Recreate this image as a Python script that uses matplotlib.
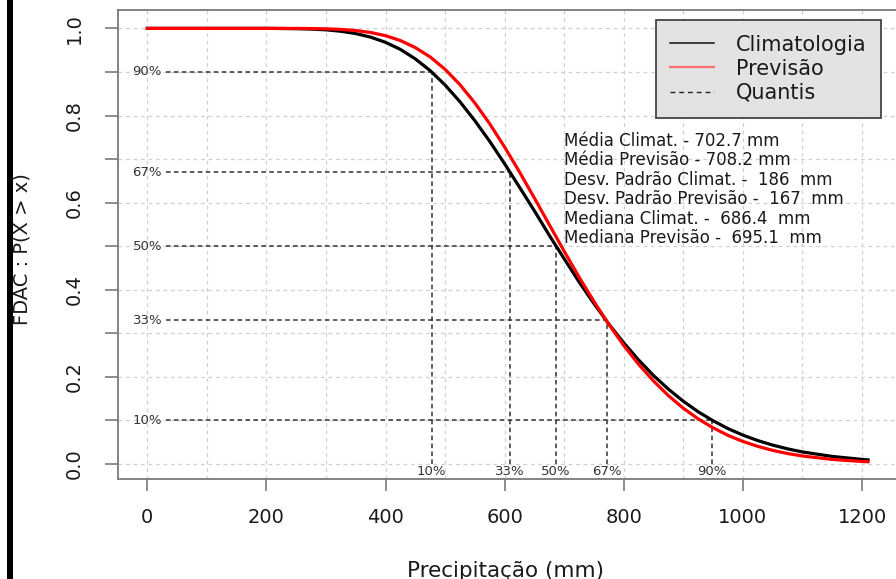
import numpy as np
import matplotlib
matplotlib.use("Agg")
import matplotlib.pyplot as plt
from matplotlib.lines import Line2D
from matplotlib.patches import Rectangle

# ---------------- data ----------------
precip = [0, 50, 100, 150, 200, 250, 275, 300, 325, 350, 375, 400, 425, 450,
          475, 500, 525, 550, 575, 600, 625, 650, 675, 700, 725, 750, 775,
          800, 825, 850, 875, 900, 925, 950, 975, 1000, 1025, 1050, 1075,
          1100, 1150, 1200, 1210]
clim_exceed = [1.0, 1.0, 1.0, 1.0, 1.0, 0.9993, 0.9984, 0.9967, 0.9934, 0.9881,
               0.9799, 0.968, 0.9517, 0.930, 0.903, 0.870, 0.8315, 0.788,
               0.7405, 0.689, 0.6353, 0.581, 0.5249, 0.471, 0.4179, 0.368,
               0.3211, 0.278, 0.2387, 0.203, 0.1717, 0.144, 0.1198, 0.0992,
               0.0813, 0.0663, 0.0538, 0.0434, 0.0348, 0.0277, 0.0174, 0.0106,
               0.0095]
prev_exceed = [1.0, 1.0, 1.0, 1.0, 1.0, 0.9999, 0.9996, 0.999, 0.9977, 0.9951,
               0.9906, 0.9832, 0.9721, 0.9559, 0.9344, 0.9059, 0.8707, 0.8287,
               0.7808, 0.7274, 0.6702, 0.6103, 0.5492, 0.4883, 0.4289, 0.3729,
               0.3204, 0.272, 0.2288, 0.1905, 0.1569, 0.128, 0.1035, 0.083,
               0.0657, 0.0518, 0.0405, 0.0313, 0.024, 0.0184, 0.0105, 0.0058,
               0.0052]

quant_levels = [0.9, 0.67, 0.5, 0.33, 0.1]
quant_level_labels = ["90%", "67%", "50%", "33%", "10%"]
quant_x = [477.5, 609, 686.4, 771, 948]
quant_x_labels = ["10%", "33%", "50%", "67%", "90%"]

stats_lines = [
    "Média Climat. - 702.7 mm",
    "Média Previsão - 708.2 mm",
    "Desv. Padrão Climat. -  186  mm",
    "Desv. Padrão Previsão -  167  mm",
    "Mediana Climat. -  686.4  mm",
    "Mediana Previsão -  695.1  mm",
]
legend_labels = ["Climatologia", "Previsão", "Quantis"]
x_ticks = [0, 200, 400, 600, 800, 1000, 1200]
y_ticks = [0.0, 0.1, 0.2, 0.3, 0.4, 0.5, 0.6, 0.7, 0.8, 0.9, 1.0]
y_tick_labels = ["0.0", "", "0.2", "", "0.4", "", "0.6", "", "0.8", "", "1.0"]
x_label = "Precipitação (mm)"
y_label = "FDAC : P(X > x)"

# ---------------- figure ----------------
W, H = 896, 579
plt.rcParams['font.family'] = ['DejaVu Sans']
fig = plt.figure(figsize=(W / 100, H / 100), dpi=100)

def fx(px):
    return px / W

def fy(py):
    return 1 - py / H

left, right, top, bottom = 118.3, 896.8, 10.0, 479.3
ax = fig.add_axes([fx(left), fy(bottom), (right - left) / W, (bottom - top) / H])
ax.set_xlim(-48.7, 1258.4)
ax.set_ylim(-0.0351, 1.0422)

# grid
for gx in range(0, 1300, 100):
    ax.axvline(gx, color='#d0d0d0', lw=0.9, ls=(0, (3, 3)), zorder=0)
for gy in y_ticks:
    ax.axhline(gy, color='#d0d0d0', lw=0.9, ls=(0, (3, 3)), zorder=0)

# quantile lines
qcol = '#333333'
qls = (0, (3, 2.2))
for lev, lab, qx, qlab in zip(quant_levels, quant_level_labels, quant_x, quant_x_labels):
    ax.plot([31, qx], [lev, lev], color=qcol, lw=1.1, ls=qls, zorder=1)
    ax.plot([qx, qx], [0, lev], color=qcol, lw=1.1, ls=qls, zorder=1)
    ax.text(0, lev, lab, ha='center', va='center', fontsize=9.5, color='#333333', zorder=3)
    ax.text(qx, -0.018, qlab, ha='center', va='center', fontsize=9.5, color='#333333', zorder=3)

# curves
ax.plot(precip, clim_exceed, color='black', lw=2.3, zorder=4)
ax.plot(precip, prev_exceed, color='red', lw=2.3, zorder=5)

# axes styling
for s in ax.spines.values():
    s.set_color('#7a7a7a')
    s.set_linewidth(1.3)
ax.set_xticks(x_ticks)
ax.set_xticklabels([str(v) for v in x_ticks])
ax.set_yticks(y_ticks)
ax.set_yticklabels(y_tick_labels, rotation=90, va='center')
ax.tick_params(axis='x', length=8.6, width=1.2, color='#7a7a7a', pad=12.3,
               labelsize=14, labelcolor='#1a1a1a')
ax.tick_params(axis='y', length=9.4, width=1.2, color='#7a7a7a', pad=15.5,
               labelsize=14, labelcolor='#1a1a1a')

# legend
handles = [
    Line2D([], [], color='#111111', lw=1.1),
    Line2D([], [], color='#ff7070', lw=1.6),
    Line2D([], [], color='#222222', lw=1.0, ls=(0, (3.5, 2.8))),
]
leg = ax.legend(handles, legend_labels, loc='upper right',
                bbox_to_anchor=(fx(881), fy(20)), bbox_transform=fig.transFigure,
                fontsize=15, frameon=True, fancybox=False, borderpad=0.7,
                labelspacing=0.2, handlelength=2.1, handletextpad=1.05,
                borderaxespad=0.0)
frame = leg.get_frame()
frame.set_facecolor('#e3e3e3')
frame.set_edgecolor('#444444')
frame.set_linewidth(1.3)
frame.set_alpha(1.0)
for t in leg.get_texts():
    t.set_color('#1a1a1a')
leg.set_zorder(10)

# stats text
for i, line in enumerate(stats_lines):
    fig.text(fx(564), fy(145.7 + i * 19.5), line, ha='left', va='baseline',
             fontsize=12, color='#1a1a1a')

# axis labels
fig.text(fx(505.5), fy(576.7), x_label, ha='center', va='baseline', fontsize=15.5,
         color='#1a1a1a')
fig.text(fx(22), fy(249.5), y_label, ha='center', va='center', rotation=90,
         fontsize=14, color='#1a1a1a')

# black border strip on the left edge
fig.patches.append(Rectangle((fx(7), 0), fx(5.7), 1, transform=fig.transFigure,
                             facecolor='black', edgecolor='none', zorder=20))

fig.savefig("out.png", dpi=100)
